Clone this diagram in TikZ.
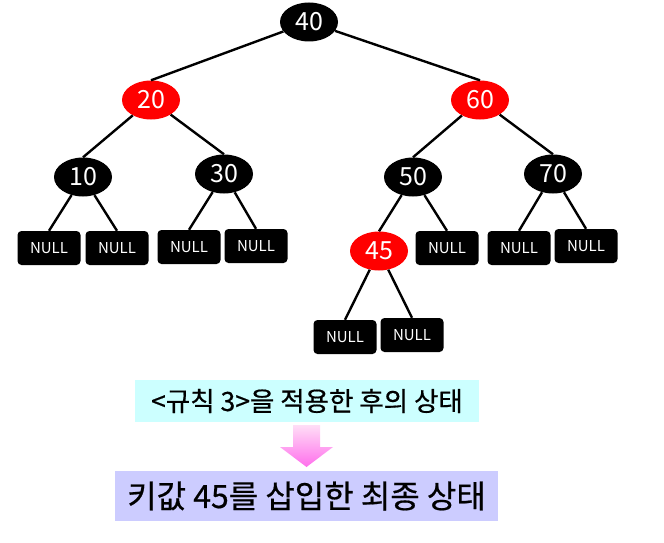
\documentclass[tikz,border=0pt]{standalone}
\usepackage{fontspec}
\setmainfont{Noto Sans CJK KR}
\newfontfamily\captionfont[FakeBold=0.6]{Noto Sans CJK KR}
\usepackage{xcolor}
\usepackage{tikz}
\usetikzlibrary{shapes.geometric, positioning}
\definecolor{rbred}{RGB}{255, 0, 0}
\definecolor{captioncyan}{RGB}{204, 255, 255}
\definecolor{captionviolet}{RGB}{204, 204, 255}
\definecolor{arrowtop}{RGB}{255, 222, 246}
\definecolor{arrowbottom}{RGB}{255, 110, 236}

\begin{document}
\begin{tikzpicture}[
    x=1pt, y=-1pt,
    blacknode/.style={ellipse, fill=black, minimum width=58pt, minimum height=39pt, inner sep=0pt,
                      text=white, font=\fontsize{25}{28}\selectfont},
    rednode/.style={blacknode, fill=rbred},
    nullbox/.style={rectangle, rounded corners=4pt, fill=black, minimum width=63pt, minimum height=34pt,
                    inner sep=0pt, text=white, font=\fontsize{15}{18}\selectfont},
    edge/.style={line width=2.4pt, black},
    caption/.style={rectangle, inner sep=0pt, text=black}
]
\useasboundingbox (0,0) rectangle (664,543);

% Tree nodes
\node[blacknode] (n40) at (309,22) {40};
\node[rednode] (n20) at (151,100) {20};
\node[rednode] (n60) at (480,100) {60};
\node[blacknode] (n10) at (83,177) {10};
\node[blacknode] (n30) at (224,174) {30};
\node[blacknode] (n50) at (413,177) {50};
\node[blacknode] (n70) at (553,174) {70};
\node[rednode] (n45) at (379,251) {45};

% NULL leaves
\node[nullbox] (null1) at (49,248) {NULL};
\node[nullbox] (null2) at (117,248) {NULL};
\node[nullbox] (null3) at (189,247) {NULL};
\node[nullbox] (null4) at (256,246) {NULL};
\node[nullbox] (null5) at (447,248) {NULL};
\node[nullbox] (null6) at (519,248) {NULL};
\node[nullbox] (null7) at (586,246) {NULL};
\node[nullbox] (null8) at (345,337) {NULL};
\node[nullbox] (null9) at (412,335) {NULL};

% Edges
\draw[edge] (n40) -- (n20.north);
\draw[edge] (n40) -- (n60.north);
\draw[edge] (n20) -- (n10.north);
\draw[edge] (n20) -- (n30.north);
\draw[edge] (n60) -- (n50.north);
\draw[edge] (n60) -- (n70.north);
\draw[edge] (n10) -- (null1.north);
\draw[edge] (n10) -- (null2.north);
\draw[edge] (n30) -- (null3.north);
\draw[edge] (n30) -- (null4.north);
\draw[edge] (n50) -- (n45.north);
\draw[edge] (n50) -- (null5.north);
\draw[edge] (n70) -- (null6.north);
\draw[edge] (n70) -- (null7.north);
\draw[edge] (n45) -- (null8.north);
\draw[edge] (n45) -- (null9.north);

% Captions
\node[caption, fill=captioncyan, minimum width=344pt, minimum height=42pt,
      font=\captionfont\fontsize{26.5}{30}\selectfont] (rulestep) at (307,401) {<규칙 3>을 적용한 후의 상태};
\node[caption, fill=captionviolet, minimum width=383pt, minimum height=50pt,
      font=\captionfont\fontsize{32}{36}\selectfont] (finalstep) at (306.5,496) {키값 45를 삽입한 최종 상태};

% Down arrow
\shade[top color=arrowtop, bottom color=arrowbottom]
    (293,425) -- (320,425) -- (320,447) -- (333,447) -- (306.5,467) -- (280,447) -- (293,447) -- cycle;

\end{tikzpicture}
\end{document}
